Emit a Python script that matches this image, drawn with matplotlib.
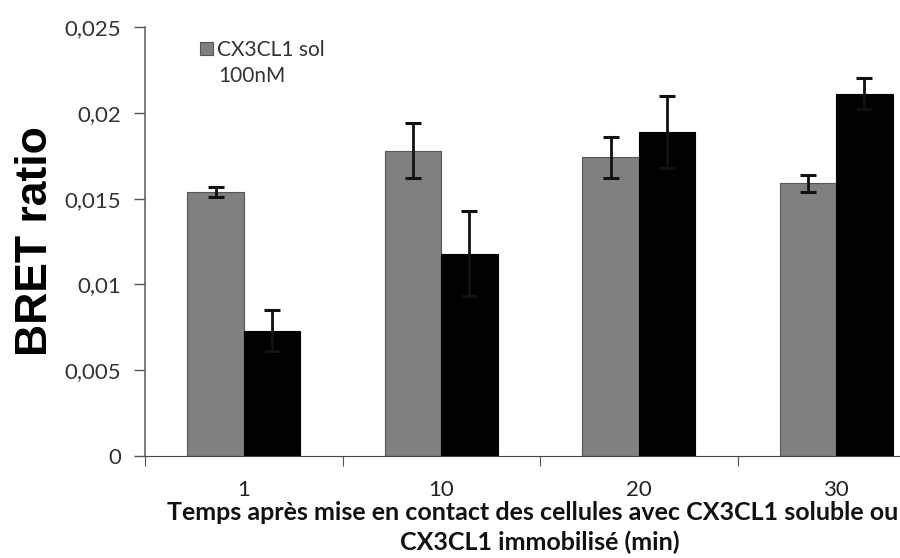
import numpy as np
import matplotlib.pyplot as plt
from matplotlib.ticker import FixedLocator, FuncFormatter

# data
categories = ['1', '10', '20', '30']
sol_vals = [0.0154, 0.0178, 0.0174, 0.0159]
sol_err = [0.0003, 0.0016, 0.0012, 0.0005]
imm_vals = [0.0073, 0.0118, 0.0189, 0.0211]
imm_err = [0.0012, 0.0025, 0.0021, 0.0009]
yticks = [0, 0.005, 0.01, 0.015, 0.02, 0.025]

plt.rcParams['font.family'] = ['Lato', 'DejaVu Sans']

fig = plt.figure(figsize=(9, 5.58), dpi=100)
ax = fig.add_axes([145 / 900, 102 / 558, 790 / 900, 429 / 558])

x = np.arange(len(categories))
w = 0.286
ax.bar(x - w / 2, sol_vals, w, color='#808080', edgecolor='#555555', linewidth=0.8,
       label='CX3CL1 sol', zorder=2)
ax.bar(x + w / 2, imm_vals, w, color='black', edgecolor='black', linewidth=0.8, zorder=2)
ax.errorbar(x - w / 2, sol_vals, yerr=sol_err, fmt='none', ecolor='#111111',
            elinewidth=2, capsize=5.5, capthick=2.2, zorder=3)
ax.errorbar(x + w / 2, imm_vals, yerr=imm_err, fmt='none', ecolor='#111111',
            elinewidth=2, capsize=5.5, capthick=2.2, zorder=3)

ax.set_xlim(-0.5, 3.5)
ax.set_ylim(0, 0.025)
ax.set_yticks(yticks)
ax.yaxis.set_major_formatter(FuncFormatter(lambda v, p: ('%g' % v).replace('.', ',')))
ax.tick_params(axis='y', direction='out', length=8, width=1, color='#555555',
               labelsize=16, labelcolor='#333333', pad=9)

# category boundaries as ticks, labels at centers
ax.xaxis.set_major_locator(FixedLocator(np.arange(-0.5, 4.0, 1.0)))
ax.xaxis.set_major_formatter(FuncFormatter(lambda v, p: ''))
ax.xaxis.set_minor_locator(FixedLocator(x))
ax.set_xticklabels(categories, minor=True)
ax.tick_params(axis='x', which='major', direction='out', length=7, color='#555555')
ax.tick_params(axis='x', which='minor', length=0, labelsize=16, labelcolor='#222222', pad=17)

for s in ['top', 'right']:
    ax.spines[s].set_visible(False)
ax.spines['left'].set_color('#666666')
ax.spines['bottom'].set_color('#444444')
ax.spines['left'].set_linewidth(1.2)

ax.set_ylabel('BRET ratio', fontsize=32, fontweight='bold',
              family=['Liberation Sans', 'DejaVu Sans'], labelpad=6)

fig.text(533 / 900, 1 - 513 / 558,
         'Temps après mise en contact des cellules avec CX3CL1 soluble ou',
         ha='center', va='center', fontsize=18, fontweight='bold', color='#111111')
fig.text(540 / 900, 1 - 542 / 558, 'CX3CL1 immobilisé (min)',
         ha='center', va='center', fontsize=18, fontweight='bold', color='#111111')

# legend: marker beside first line, wrapped second line below
leg = ax.legend(loc='upper left', bbox_to_anchor=(0.046, 1.013), frameon=False,
                fontsize=15, handlelength=0.6, handleheight=0.6, handletextpad=0.2,
                labelcolor='#333333')
fig.text(218 / 900, 1 - 76 / 558, '100nM', ha='left', va='center',
         fontsize=15, color='#333333')

fig.savefig('out.png', dpi=100)
